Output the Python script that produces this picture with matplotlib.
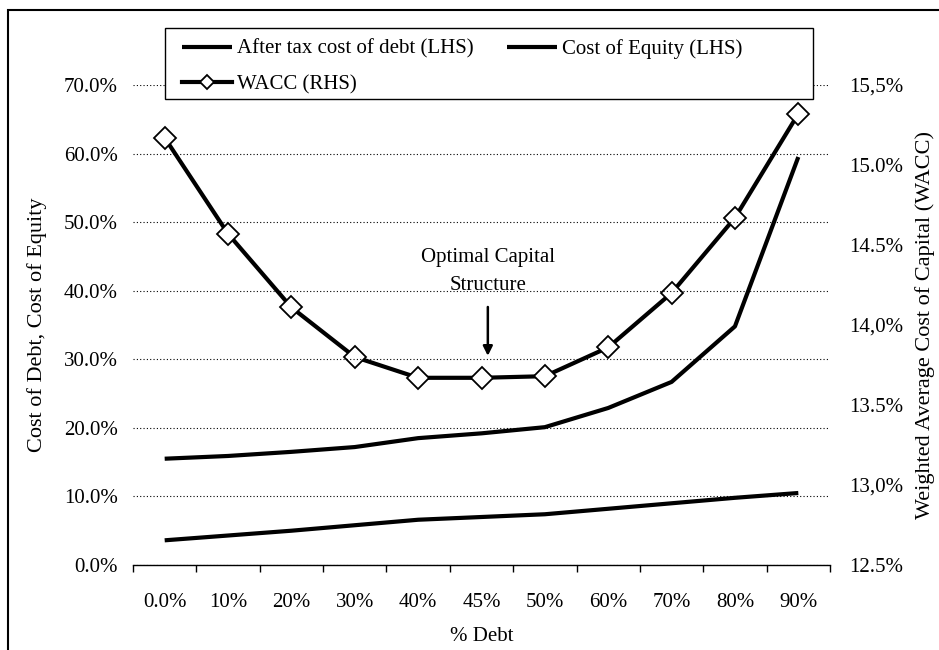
import matplotlib
matplotlib.use("Agg")
import matplotlib.pyplot as plt
from matplotlib.patches import Rectangle
from matplotlib.ticker import FixedLocator, FixedFormatter

plt.rcParams['font.family'] = ['Liberation Serif', 'DejaVu Serif']

# Data
debt_share = ["0.0%", "10%", "20%", "30%", "40%", "45%", "50%", "60%", "70%", "80%", "90%"]
cost_of_debt_after_tax = [3.6, 4.3, 5.0, 5.8, 6.6, 7.0, 7.4, 8.2, 9.0, 9.8, 10.5]
cost_of_equity = [15.5, 15.9, 16.5, 17.2, 18.5, 19.2, 20.1, 22.9, 26.7, 34.8, 59.5]
wacc = [15.17, 14.57, 14.11, 13.80, 13.67, 13.67, 13.68, 13.86, 14.20, 14.67, 15.32]

left_ticks = [0, 10, 20, 30, 40, 50, 60, 70]
left_labels = ["0.0%", "10.0%", "20.0%", "30.0%", "40.0%", "50.0%", "60.0%", "70.0%"]
right_ticks = [12.5, 13.0, 13.5, 14.0, 14.5, 15.0, 15.5]
right_labels = ["12.5%", "13,0%", "13.5%", "14,0%", "14.5%", "15.0%", "15,5%"]

FS = 15
LABEL_FS = 16

fig = plt.figure(figsize=(9.39, 6.5), dpi=100)
ax = fig.add_axes([133 / 939, 1 - 565 / 650, 697 / 939, 480 / 650])
ax2 = ax.twinx()

x = list(range(len(debt_share)))

l_debt, = ax.plot(x, cost_of_debt_after_tax, color='black', lw=3.0, solid_capstyle='butt')
l_eq, = ax.plot(x, cost_of_equity, color='black', lw=3.0, solid_capstyle='butt')
l_wacc, = ax2.plot(x, wacc, color='black', lw=3.0, marker='D', markersize=11,
                   markerfacecolor='white', markeredgecolor='black', markeredgewidth=1.3)

ax.set_xlim(-0.5, len(debt_share) - 0.5)
ax.set_ylim(0, 70)
ax2.set_ylim(12.5, 15.5)

# Left axis
ax.yaxis.set_major_locator(FixedLocator(left_ticks))
ax.yaxis.set_major_formatter(FixedFormatter(left_labels))
ax.tick_params(axis='y', length=0, labelsize=FS, pad=11)
ax.grid(axis='y', color='black', linestyle=(0, (1, 2)), linewidth=0.8)

# Right axis
ax2.yaxis.set_major_locator(FixedLocator(right_ticks))
ax2.yaxis.set_major_formatter(FixedFormatter(right_labels))
ax2.tick_params(axis='y', length=0, labelsize=FS, pad=14)

# Category axis
ax.set_xticks(x)
ax.set_xticklabels(debt_share)
ax.tick_params(axis='x', length=0, labelsize=FS, pad=20)
ax.set_xticks([i - 0.5 for i in range(len(debt_share) + 1)], minor=True)
ax.tick_params(axis='x', which='minor', length=5, width=1.0, direction='out')

for a in (ax, ax2):
    for side in ('left', 'right', 'top'):
        a.spines[side].set_visible(False)
ax2.spines['bottom'].set_visible(False)
ax.spines['bottom'].set_linewidth(1.0)

ax.set_xlabel("% Debt", fontsize=FS, labelpad=11)
ax.set_ylabel("Cost of Debt, Cost of Equity", fontsize=LABEL_FS, labelpad=12)
ax2.set_ylabel("Weighted Average Cost of Capital (WACC)", fontsize=LABEL_FS, labelpad=8)

# Optimal point call-out
ax2.annotate("", xy=(5.1, 13.79), xytext=(5.1, 14.13),
             arrowprops=dict(arrowstyle='-|>', color='black', lw=1.8, mutation_scale=14))
ax2.text(5.1, 14.19, "Optimal Capital\nStructure", ha='center', va='bottom',
         fontsize=FS, linespacing=1.6)

# Legend box and entries
ax.add_patch(Rectangle((32 / 697, (565 - 99) / 480), 648 / 697, 71 / 480,
                       transform=ax.transAxes, facecolor='white', edgecolor='black',
                       lw=1.0, clip_on=False, zorder=9))
leg = ax.legend([l_debt, l_wacc, l_eq],
                ["After tax cost of debt (LHS)", "WACC (RHS)", "Cost of Equity (LHS)"],
                ncol=2, loc='upper left', bbox_to_anchor=(49 / 697, (565 - 39) / 480),
                fontsize=FS, frameon=False, handlelength=2.4, borderaxespad=0,
                borderpad=0, handletextpad=0.25, columnspacing=1.6, labelspacing=0.75)
leg.legend_handles[1].set_markersize(7)
leg.set_zorder(10)
ax.set_zorder(ax2.get_zorder() + 1)
ax.patch.set_visible(False)

# Chart area border
fig.add_artist(Rectangle((8 / 939, -0.05), 1.2, (1 - 10 / 650) + 0.05,
                         transform=fig.transFigure, fill=False, lw=1.5, edgecolor='black'))

fig.savefig("out.png", dpi=100)
